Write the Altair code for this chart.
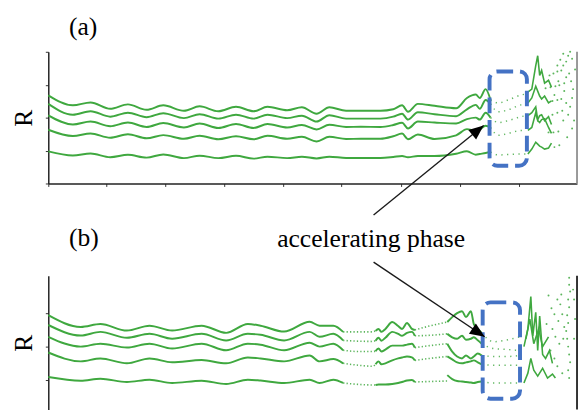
import altair as alt
import pandas as pd

GREEN = "#3fa83f"
BLUE = "#4472c4"
SERIF = "Liberation Serif"

# ---------------- panel (a) ----------------
A_X = [0, 25, 43, 63, 81, 100, 117, 138, 154, 173, 191, 209, 223, 243, 258, 273, 286, 303, 318, 338,
       351, 360, 366, 376, 393, 415, 426, 435, 439, 445, 450]
A_R1 = [89.7, 79.5, 82.5, 76, 80.5, 75, 79.5, 74, 78.5, 73.5, 78, 73.5, 78, 74.5, 77.5, 71, 77.5, 74, 74, 74,
        75.5, 79.5, 73, 81, 79, 76.5, 87, 90.5, 87, 96, 85]
A_R2 = [81, 70, 73.5, 68, 72, 67.5, 71.5, 66.5, 70.5, 66, 70, 66, 70, 66.5, 69, 63, 69.5, 66, 66, 66,
        68, 71, 65, 72.5, 70.5, 68.5, 75.5, 80, 76, 85, 81]
A_R3 = [69.3, 60, 63, 58.3, 62, 57.5, 61.5, 57, 61, 56.5, 60.5, 56.5, 60.5, 57, 59.5, 55, 59.8, 57.5, 57.7, 57.5,
        59.5, 61.8, 56, 63, 62, 61, 65.5, 67, 65, 72, 67]
A_R4 = [54.7, 48.3, 50.8, 46.5, 50, 46, 49.2, 45.5, 48.5, 45, 48, 45, 48.5, 45.5, 47.5, 42.7, 47.5, 45.3, 45.5, 45.5,
        48, 50.8, 45, 49.8, 45.3, 49, 55.3, 53.7, 55, 58.7, 57]
A_R5 = [32.7, 28.5, 30.5, 26.8, 29.2, 26.3, 29.5, 25.8, 28.3, 25.8, 28.2, 25.3, 27.3, 25.8, 27.2, 25.5, 27.2, 26, 26, 26,
        27, 28, 26.7, 28, 28, 30.3, 32.7, 29.3, 30, 31, 32]

A_BOX_X = [450, 458, 468, 481, 486]
A_BOX_R1 = [85, 82, 85, 90, 91]
A_BOX_R2 = [81, 73, 75, 80, 81]
A_BOX_R3 = [67, 62, 64, 68, 69]
A_BOX_R4 = [57, 49, 51, 54, 54]
A_BOX_R5 = [32, 29, 29.5, 30, 30]

A_SPK_X = [488, 492, 496, 498, 500, 502, 505, 509, 512]
A_SPK_R1 = [93, 96, 120, 130, 110, 115, 102, 105, 98]
A_SPK_R2 = [82, 87, 99, 94, 89, 86, 89, 82, 84]
A_SPK_R3 = [69, 72, 78, 65, 69, 70, 64, 68, 60]
A_SPK_R4 = [54, 57, 72, 64, 62, 65, 66, 57, 51]
A_SPK_R5 = [30, 35, 42, 40, 38, 37, 35, 36, 41]

A_DOT_X = [510, 514, 518, 522, 506, 511, 516, 520, 525, 513, 518, 522, 513, 518, 523, 509, 514, 519, 515, 520,
           515, 519, 524, 527, 529, 531, 533, 530, 532, 534, 533, 531, 529, 535, 533, 536, 525, 527, 524, 528,
           527, 521, 518, 524]
A_DOT_R = [110, 112, 114, 115, 97, 98, 99, 100, 102, 84, 85, 86, 70, 72, 74, 52, 52, 53, 37, 39,
           90, 104, 120, 124, 130, 134, 127, 112, 104, 96, 87, 78, 70, 64, 56, 116, 94, 82, 64, 47,
           108, 126, 120, 132]

A_BOXRECT = {"x": 449, "x2": 487, "r": 114, "r2": 18}
A_ARROW = {"x": 331, "r": -32, "x2": 443, "r2": 59}
A_LABEL = {"x": 328.5, "r": -65, "text": "accelerating phase"}

# ---------------- panel (b) ----------------
B_X1 = [0, 33, 53, 80, 103, 126, 156, 181, 203, 216, 240, 266, 276, 290, 300]
B_R1_1 = [100, 88, 91, 84.3, 89.3, 84.3, 89.3, 82, 91, 89.3, 83.3, 93.3, 89.3, 89.3, 83]
B_R2_1 = [90, 79.3, 83, 77, 81, 76, 81, 74.3, 81, 80, 74.3, 83, 78, 81, 74.3]
B_R3_1 = [78, 68, 71, 67, 71, 66, 71, 64.3, 71, 70, 64.3, 72, 68, 71, 64.3]
B_R4_1 = [62, 53, 56, 51, 56, 52, 54.3, 51, 57, 56, 53, 59, 53, 55.3, 51]
B_R5_1 = [37, 33.3, 35.3, 32, 34.3, 31, 33.3, 30, 34.3, 33.5, 31, 34.3, 31, 34.3, 31]

B_X2 = [300, 316, 330, 333]
B_R1_2 = [83, 83, 83, 84]
B_R2_2 = [74.3, 73.5, 73.3, 74]
B_R3_2 = [64.3, 63, 63, 63.5]
B_R4_2 = [51, 49, 48, 50]
B_R5_2 = [31, 29.5, 29, 29]

B_X3 = [333, 336, 339, 343, 350, 356, 360, 365, 370, 373]
B_R1_3 = [84, 86, 83, 86, 93, 89, 86, 92, 86, 85]
B_R2_3 = [74, 77, 74, 77, 83, 81, 79, 82, 83, 79]
B_R3_3 = [63.5, 66, 63, 65, 69, 69, 69, 70, 71, 67]
B_R4_3 = [50, 53, 50, 51, 54, 56, 57, 58, 57, 54]
B_R5_3 = [29, 29.5, 29.5, 29.5, 30, 31, 32, 33.5, 34, 32]

B_X4 = [373, 388, 406]
B_R1_4 = [85, 89, 93]
B_R2_4 = [79, 79.5, 81]
B_R3_4 = [67, 69, 71]
B_R4_4 = [54, 56, 58]
B_R5_4 = [32, 32.5, 33]

B_X5 = [406, 411, 416, 421, 425, 430, 433, 437, 441]
B_R1_5 = [93, 98, 102, 104, 98, 104, 91, 86, 82]
B_R2_5 = [81, 77.5, 76, 79, 75, 76, 77.5, 74.5, 71]
B_R3_5 = [71, 63, 58, 56, 59, 56, 58, 61, 59]
B_R4_5 = [58, 55, 52, 51, 52, 53, 54, 52, 50]
B_R5_5 = [39, 35, 33, 32.5, 32, 31.5, 31, 32, 32.5]

B_X6 = [441, 453, 468, 480]
B_R1_6 = [82, 73, 75, 78]
B_R2_6 = [71, 66, 65, 64]
B_R3_6 = [59, 58, 58, 59]
B_R4_6 = [50, 49, 49, 49]
B_R5_6 = [32.5, 31, 31, 31]

B_SPK1_X = [484, 488, 491, 493, 496, 498, 500, 503, 506, 510, 513]
B_SPK1_R = [68, 86, 119, 79, 103, 64, 99, 60, 56, 64, 51]
B_SPK2_X = [484, 488, 491, 494, 498, 503, 508, 513, 516]
B_SPK2_R = [31, 41, 56, 44, 38, 46, 36, 40, 36]
B_SPK3_X = [486, 490, 494, 499, 503, 509]
B_SPK3_R = [76, 96, 71, 86, 68, 78]

B_DOT_X = [530, 530, 531, 529, 530, 528, 529, 527, 528, 529, 530, 531, 529, 530, 518, 521, 515, 519, 513, 516,
           520, 511, 515, 523, 525, 524, 535, 536, 535, 534, 522, 509, 512, 518, 523, 507]
B_DOT_R = [138, 131, 124, 116, 108, 100, 92, 84, 76, 68, 60, 52, 44, 36, 116, 111, 101, 94, 86, 78,
           71, 64, 56, 101, 88, 76, 116, 96, 76, 126, 121, 120, 107, 48, 41, 91]

B_BOXRECT = {"x": 442, "x2": 480, "r": 113, "r2": 15}
B_ARROW = {"x": 331, "r": 154, "x2": 444, "r2": 78}


def segs(x, series, prefix):
    rows = []
    for k, ys in enumerate(series):
        for i, (xv, yv) in enumerate(zip(x, ys)):
            rows.append({"x": xv, "r": yv, "seg": f"{prefix}{k}", "i": i})
    return pd.DataFrame(rows)


def single(x, y, name):
    return pd.DataFrame({"x": x, "r": y, "seg": name, "i": list(range(len(x)))})


XS = alt.Scale(domain=[0, 538], nice=False, zero=False)
AXIS_STYLE = dict(labels=False, grid=False, tickSize=3, tickColor="#333", tickWidth=1,
                  domainColor="#222", domainWidth=1.5)


def panel(yscale_dom, yticks, xaxis, solid_df, dotted_df, sparse_df, spiky_df, dots_df,
          box, arrow, angle, frame_color, frame_r, title, label=None):
    ys = alt.Scale(domain=yscale_dom, nice=False, zero=False)
    X = alt.X("x:Q", scale=XS, axis=xaxis, title=None)
    Y = alt.Y("r:Q", scale=ys, axis=alt.Axis(values=yticks, title="R", titleFont=SERIF, titleFontSize=26,
                                             titleFontWeight="normal", titleColor="black",
                                             titlePadding=9, **AXIS_STYLE))
    layers = []
    layers.append(alt.Chart(solid_df).mark_line(color=GREEN, strokeWidth=2, interpolate="monotone")
                  .encode(x=X, y=Y, detail="seg:N", order="i:Q"))
    if dotted_df is not None:
        layers.append(alt.Chart(dotted_df).mark_line(color=GREEN, strokeWidth=1.6, strokeDash=[1.3, 2.2],
                                                     interpolate="monotone", opacity=0.85)
                      .encode(x=X, y=Y, detail="seg:N", order="i:Q"))
    layers.append(alt.Chart(sparse_df).mark_line(color=GREEN, strokeWidth=1.5, strokeDash=[1.3, 4.5],
                                                 interpolate="monotone", opacity=0.8)
                  .encode(x=X, y=Y, detail="seg:N", order="i:Q"))
    layers.append(alt.Chart(spiky_df).mark_line(color=GREEN, strokeWidth=1.6, interpolate="linear")
                  .encode(x=X, y=Y, detail="seg:N", order="i:Q"))
    layers.append(alt.Chart(dots_df).mark_circle(color=GREEN, size=4, opacity=0.85)
                  .encode(x=X, y=Y))
    # right frame
    layers.append(alt.Chart(pd.DataFrame({"x": [538], "r": [frame_r[0]], "r2": [frame_r[1]]}))
                  .mark_rule(color=frame_color, strokeWidth=2)
                  .encode(x=X, y=Y, y2="r2:Q"))
    # dashed rounded box
    layers.append(alt.Chart(pd.DataFrame([box]))
                  .mark_rect(fillOpacity=0, stroke=BLUE, strokeWidth=4, strokeDash=[16, 7], cornerRadius=8)
                  .encode(x=X, x2="x2:Q", y=Y, y2="r2:Q"))
    # arrow
    layers.append(alt.Chart(pd.DataFrame([arrow]))
                  .mark_rule(color="#1a1a1a", strokeWidth=1.4)
                  .encode(x=X, x2="x2:Q", y=Y, y2="r2:Q"))
    layers.append(alt.Chart(pd.DataFrame([{"x": arrow["x2"], "r": arrow["r2"]}]))
                  .mark_point(shape="M0,0L-0.42,1L0.42,1Z", filled=True, size=900, angle=angle,
                              color="black", opacity=1, strokeWidth=0)
                  .encode(x=X, y=Y))
    if label is not None:
        layers.append(alt.Chart(pd.DataFrame([label]))
                      .mark_text(font=SERIF, fontSize=26, color="black", align="center", baseline="alphabetic")
                      .encode(x=X, y=Y, text="text:N"))
    return alt.layer(*layers).properties(
        width=538, height=int(round(yscale_dom[1] - yscale_dom[0])),
        title=alt.TitleParams(title, anchor="start", frame="group", dx=21, offset=11, font=SERIF,
                              fontSize=26, fontWeight="normal", color="black"))


A_solid = segs(A_X, [A_R1, A_R2, A_R3, A_R4, A_R5], "a")
A_sparse = segs(A_BOX_X, [A_BOX_R1, A_BOX_R2, A_BOX_R3, A_BOX_R4, A_BOX_R5], "ab")
A_spiky = segs(A_SPK_X, [A_SPK_R1, A_SPK_R2, A_SPK_R3, A_SPK_R4, A_SPK_R5], "as")
A_dots = pd.DataFrame({"x": A_DOT_X, "r": A_DOT_R})

B_solid = pd.concat([
    segs(B_X1, [B_R1_1, B_R2_1, B_R3_1, B_R4_1, B_R5_1], "b1"),
    segs(B_X3, [B_R1_3, B_R2_3, B_R3_3, B_R4_3, B_R5_3], "b3"),
    segs(B_X5, [B_R1_5, B_R2_5, B_R3_5, B_R4_5, B_R5_5], "b5"),
])
B_dotted = pd.concat([
    segs(B_X2, [B_R1_2, B_R2_2, B_R3_2, B_R4_2, B_R5_2], "b2"),
    segs(B_X4, [B_R1_4, B_R2_4, B_R3_4, B_R4_4, B_R5_4], "b4"),
])
B_sparse = segs(B_X6, [B_R1_6, B_R2_6, B_R3_6, B_R4_6, B_R5_6], "b6")
B_spiky = pd.concat([single(B_SPK1_X, B_SPK1_R, "s1"), single(B_SPK2_X, B_SPK2_R, "s2"),
                     single(B_SPK3_X, B_SPK3_R, "s3")])
B_dots = pd.DataFrame({"x": B_DOT_X, "r": B_DOT_R})

xaxis_a = alt.Axis(values=[0, 59, 119, 179, 239, 298, 359, 419, 479], title=None, **AXIS_STYLE)

panel_a = panel([0, 134], [0, 33.5, 67, 100.5, 134], xaxis_a, A_solid, None, A_sparse, A_spiky, A_dots,
                A_BOXRECT, A_ARROW, 50.9, "#999999", (0, 134), "(a)", A_LABEL)
panel_b = panel([4, 140], [34, 68, 102], None, B_solid, B_dotted, B_sparse, B_spiky, B_dots,
                B_BOXRECT, B_ARROW, 123.9, "#333333", (4, 140), "(b)")

chart = alt.vconcat(panel_a, panel_b, spacing=94, bounds="flush").properties(
    padding={"left": 2, "top": 3, "right": 0, "bottom": 0},
    background="white",
).configure_view(stroke=None)

chart.save("out.html", embed_options={"renderer": "svg", "actions": False})
